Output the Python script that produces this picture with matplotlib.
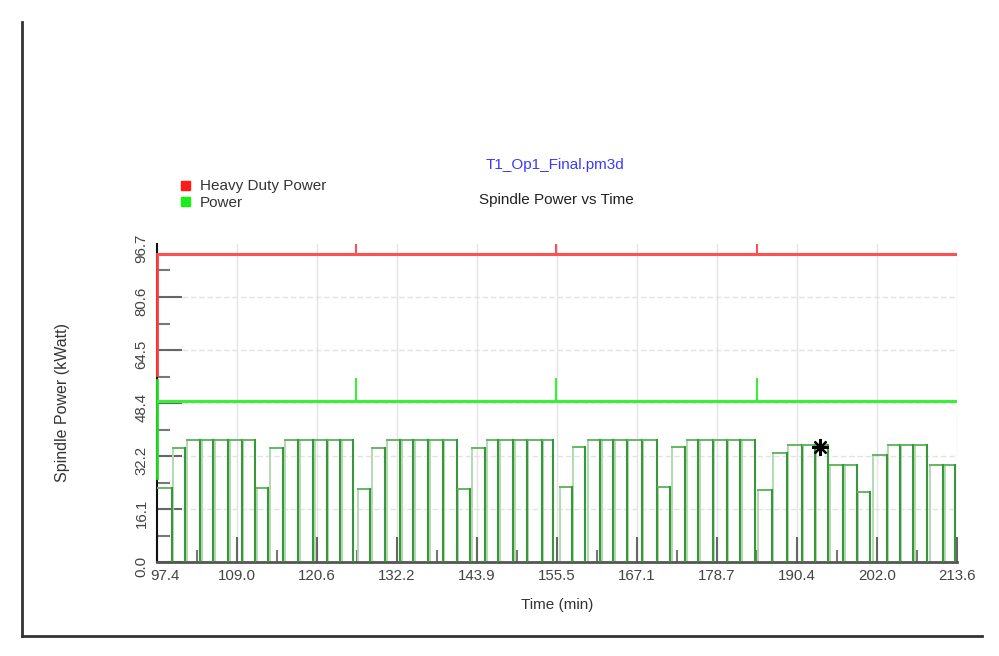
import numpy as np
import matplotlib
matplotlib.use("Agg")
import matplotlib.pyplot as plt
import matplotlib.transforms as mtransforms
from matplotlib.lines import Line2D

plt.rcParams['font.family'] = ['Liberation Sans', 'DejaVu Sans']

# ---------------- data ----------------
x_min, x_max = 97.4, 213.6
y_min, y_max = 0.0, 96.7
x_tick_labels = ["97.4", "109.0", "120.6", "132.2", "143.9", "155.5",
                 "167.1", "178.7", "190.4", "202.0", "213.6"]
y_tick_labels = ["0.0", "16.1", "32.2", "48.4", "64.5", "80.6", "96.7"]

heavy_duty_level = 93.6
heavy_duty_start = [56.8, 93.6]          # vertical start segment at x_min
power_level = 49.0
power_start = [25.5, 55.3]               # vertical start segment at x_min
spike_times = [126.3, 155.4, 184.5]
heavy_spike_top = 96.4
power_spike_top = 55.6

pulse_start = [97.40, 99.72, 101.76, 103.94, 105.82, 108.00, 109.89,
               111.92, 113.81, 115.99, 118.17, 120.35, 122.24, 124.27,
               126.59, 128.63, 130.81, 132.98, 134.87, 137.05, 139.08,
               141.12, 143.15, 145.33, 147.22, 149.40, 151.29, 153.46,
               155.93, 157.82, 160.00, 162.03, 163.92, 165.81, 167.99,
               170.17, 172.20, 174.38, 176.27, 178.30, 180.33, 182.37,
               184.69, 186.87, 189.05, 191.23, 193.11, 195.15, 197.33,
               199.21, 201.40, 203.57, 205.46, 207.49, 209.67, 211.85]
pulse_end = [99.58, 101.47, 103.65, 105.53, 107.71, 109.75, 111.63,
             113.52, 115.70, 117.88, 120.06, 122.09, 123.98, 125.87,
             128.34, 130.52, 132.69, 134.58, 136.76, 138.94, 140.97,
             142.86, 145.04, 146.93, 149.11, 151.14, 153.32, 154.92,
             157.68, 159.56, 161.74, 163.63, 165.66, 167.84, 170.02,
             171.91, 174.09, 175.98, 178.15, 180.19, 182.08, 184.26,
             186.73, 188.91, 191.09, 192.97, 194.86, 197.04, 199.07,
             200.96, 203.43, 205.32, 207.20, 209.24, 211.56, 213.30]
pulse_level = [22.4, 34.6, 37.1, 37.1, 37.1, 37.1, 37.1,
               22.4, 34.6, 37.1, 37.1, 37.1, 37.1, 37.1,
               22.2, 34.6, 37.1, 37.1, 37.1, 37.1, 37.1,
               22.2, 34.6, 37.1, 37.1, 37.1, 37.1, 37.1,
               22.8, 35.0, 37.1, 37.1, 37.1, 37.1, 37.1,
               22.8, 35.0, 37.1, 37.1, 37.1, 37.1, 37.1,
               21.9, 33.0, 35.6, 35.6, 35.6, 29.5, 29.5,
               21.4, 32.5, 35.6, 35.6, 35.6, 29.5, 29.5]
marker_point = (193.7, 35.0)

# ---------------- figure ----------------
W, H = 999, 656
fig = plt.figure(figsize=(W / 100, H / 100), dpi=100)
fig.patch.set_facecolor('white')

ax_l, ax_r, ax_b, ax_t = 157, 957, 562, 244
ax = fig.add_axes([ax_l / W, 1 - ax_b / H, (ax_r - ax_l) / W, (ax_b - ax_t) / H])
ax.set_xlim(x_min, x_max)
ax.set_ylim(y_min, y_max)

xt = np.linspace(x_min, x_max, len(x_tick_labels))
yt = np.linspace(y_min, y_max, len(y_tick_labels))
ax.set_xticks(xt)
ax.set_xticklabels(x_tick_labels)
ax.set_yticks(yt)
ax.set_yticklabels(y_tick_labels, rotation=90, va='center')
ax.set_xticks((xt[:-1] + xt[1:]) / 2, minor=True)
ax.set_yticks((yt[:-1] + yt[1:]) / 2, minor=True)

ax.tick_params(axis='both', which='major', direction='in', length=18, width=1.5,
               color='#666666', labelsize=10.8, labelcolor='#444444')
ax.tick_params(axis='both', which='minor', direction='in', length=9, width=1.5,
               color='#777777')
ax.tick_params(axis='x', which='major', pad=5)
ax.tick_params(axis='y', which='major', pad=6)
ax.yaxis.get_major_ticks()[-1].tick1line.set_visible(False)

# small label offsets seen in the reference
down = mtransforms.ScaledTranslation(0, -4 / 100, fig.dpi_scale_trans)
for lab in ax.get_yticklabels():
    lab.set_transform(lab.get_transform() + down)
first = ax.get_xticklabels()[0]
first.set_transform(first.get_transform() +
                    mtransforms.ScaledTranslation(8 / 100, 0, fig.dpi_scale_trans))

for s in ['top', 'right']:
    ax.spines[s].set_visible(False)
ax.spines['left'].set_color('#111111')
ax.spines['left'].set_linewidth(1.5)
ax.spines['bottom'].set_color('#555555')
ax.spines['bottom'].set_linewidth(2)

# grid
for x in xt[1:]:
    ax.axvline(x, color='#e4e4e4', lw=1, zorder=0)
for y in yt[1:-1]:
    ax.axhline(y, color='#e2e2e2', lw=1, ls=(0, (4, 2)), zorder=0)

# pulse trace
for s, e, lv in zip(pulse_start, pulse_end, pulse_level):
    ax.plot([s, s], [0, lv], color='#b0dcb0', lw=1.4, zorder=2)
    ax.plot([s, e], [lv, lv], color='#62b862', lw=1.4, zorder=3)
    ax.plot([e, e], [lv, 0], color='#3a963a', lw=1.5, zorder=3)

# constant lines
ax.plot([x_min, x_min], heavy_duty_start, color='#ff3c3c', lw=2, zorder=4, clip_on=False)
ax.plot([x_min, x_max], [heavy_duty_level] * 2, color='#ff5050', lw=2.2, zorder=4)
ax.plot([x_min, x_min], power_start, color='#22dd22', lw=2, zorder=4, clip_on=False)
ax.plot([x_min, x_max], [power_level] * 2, color='#3aee3a', lw=2.2, zorder=4)
for t in spike_times:
    ax.plot([t, t], [heavy_duty_level, heavy_spike_top], color='#ff5050', lw=1.5, zorder=4)
    ax.plot([t, t], [power_level, power_spike_top], color='#3aee3a', lw=1.5, zorder=4)

ax.plot([marker_point[0]], [marker_point[1]], marker=(8, 2, 0), ms=12,
        color='black', mew=1.6, zorder=6)

# labels
fig.text(557 / W, 1 - 605 / H, 'Time (min)', ha='center', va='center',
         fontsize=11, color='#333333')
fig.text(62 / W, 1 - 403 / H, 'Spindle Power (kWatt)', ha='center', va='center',
         rotation=90, fontsize=11.5, color='#333333')
fig.text(555 / W, 1 - 165 / H, 'T1_Op1_Final.pm3d', ha='center', va='center',
         fontsize=11, color='#3a3aff')
fig.text(556 / W, 1 - 200 / H, 'Spindle Power vs Time', ha='center', va='center',
         fontsize=11, color='#222222')

# legend
fig.patches.append(plt.Rectangle((181 / W, 1 - 190 / H), 9 / W, 9 / H,
                                 transform=fig.transFigure, color='#ff1a1a'))
fig.patches.append(plt.Rectangle((181 / W, 1 - 206 / H), 9 / W, 9 / H,
                                 transform=fig.transFigure, color='#1aee1a'))
fig.text(200 / W, 1 - 186 / H, 'Heavy Duty Power', ha='left', va='center',
         fontsize=11, color='#333333')
fig.text(200 / W, 1 - 203 / H, 'Power', ha='left', va='center',
         fontsize=11, color='#333333')

# outer border
fig.add_artist(Line2D([22 / W, 22 / W], [1 - 636 / H, 1 - 22 / H],
                      transform=fig.transFigure, color='#333333', lw=2))
fig.add_artist(Line2D([22 / W, 982 / W], [1 - 636 / H, 1 - 636 / H],
                      transform=fig.transFigure, color='#333333', lw=2))

fig.savefig('out.png', dpi=100)
